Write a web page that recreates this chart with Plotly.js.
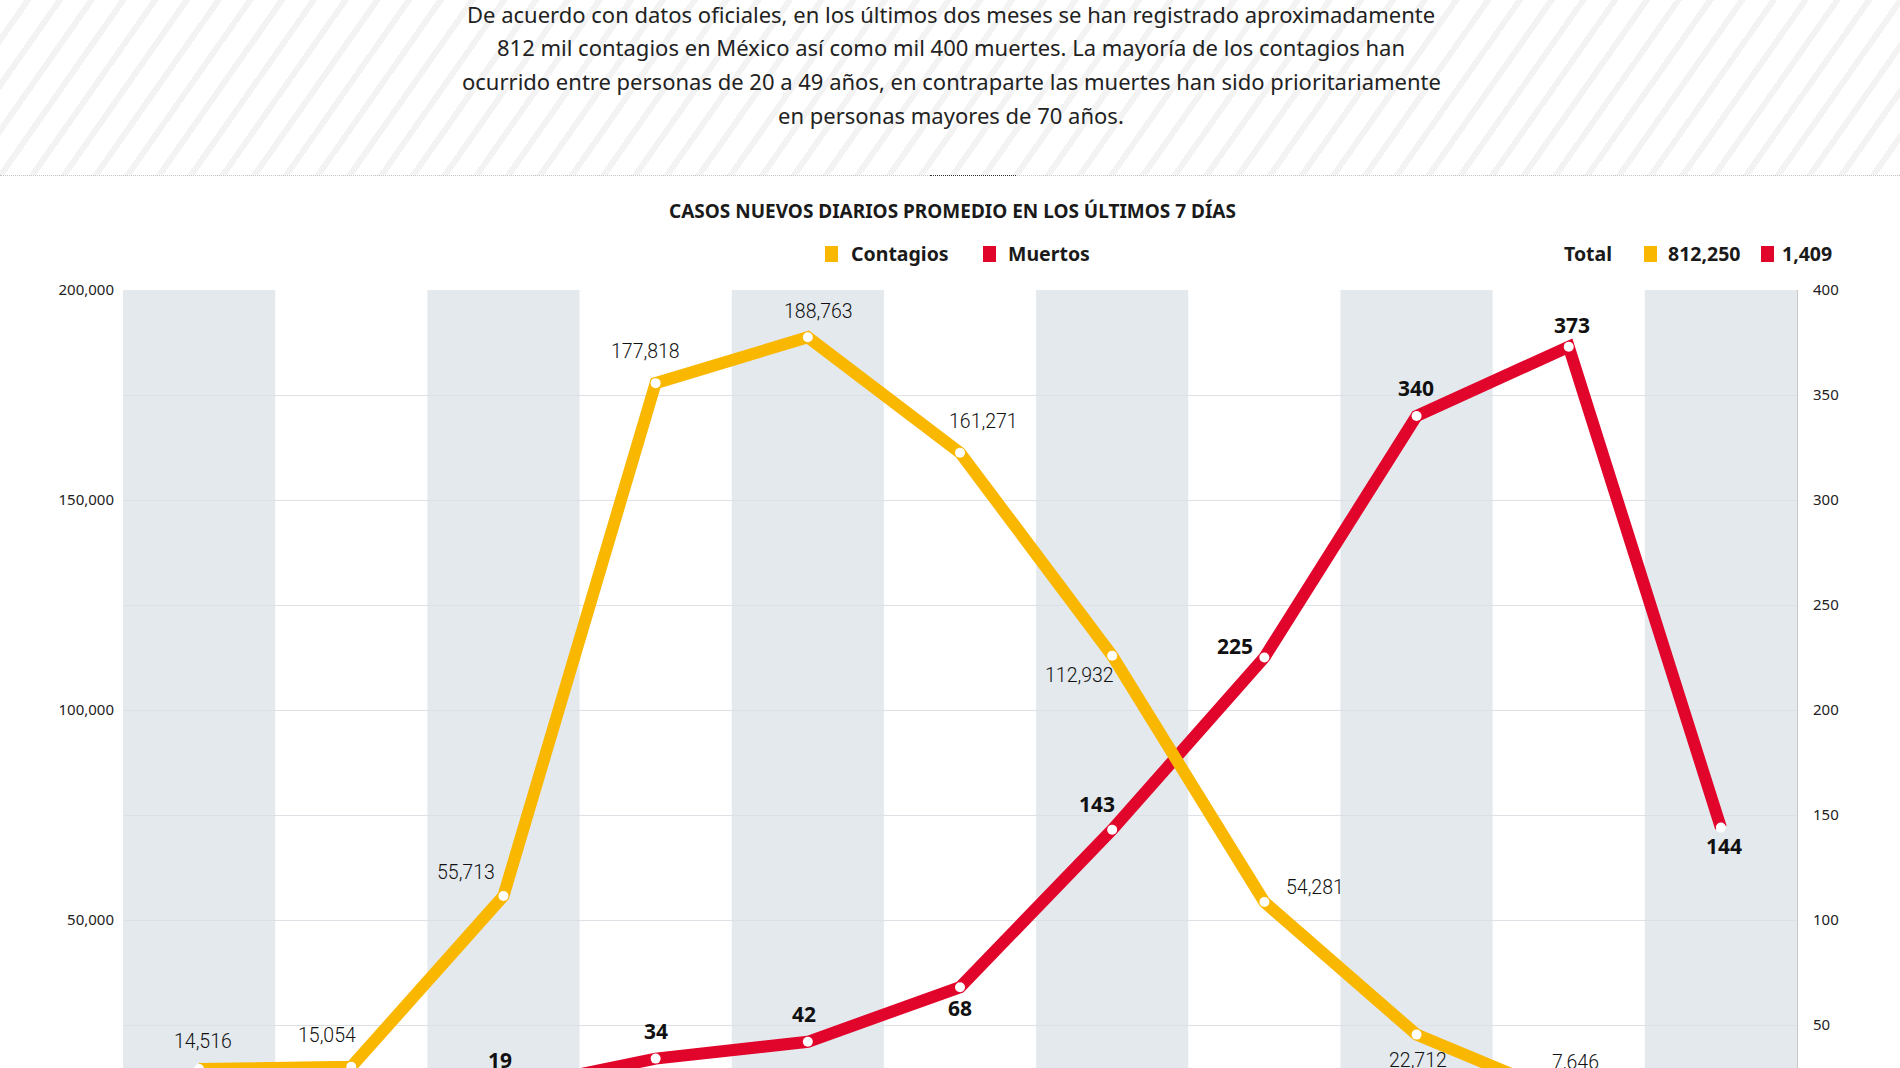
<!DOCTYPE html>
<html><head><meta charset="utf-8">
<script src="https://cdn.plot.ly/plotly-3.0.1.min.js"></script>
<style>
html,body{margin:0;padding:0;width:1900px;height:1068px;overflow:hidden;background:#fff;}
#hdr{position:absolute;left:0;top:0;width:1900px;height:175px;
 background:repeating-linear-gradient(125deg,#ffffff 0px,#ffffff 20px,#f3f3f3 20px,#f3f3f3 26px);
 border-bottom:1px dotted #c4c4c4;}
#dash{position:absolute;left:930px;top:175px;width:86px;height:0;border-top:1px dotted #333;}
#wrap{position:absolute;left:0;top:0;width:1900px;height:1068px;overflow:hidden;}
#chart{position:absolute;left:0;top:0;width:1900px;height:1140px;}
</style></head><body>
<div id="hdr"></div><div id="dash"></div>
<div id="wrap"><div id="chart"></div></div>
<script>
// ---- data ----
const categorias = ['0-4','5-9','10-19','20-29','30-39','40-49','50-59','60-69','70-79','80-89','90+'];
const contagios  = [14516, 15054, 55713, 177818, 188763, 161271, 112932, 54281, 22712, 7646, 1544];
const muertes    = [12, 9, 19, 34, 42, 68, 143, 225, 340, 373, 144];
const totalContagios = 812250;
const totalMuertes = 1409;
const ticksContagios = [50000, 100000, 150000, 200000];
const ticksMuertes = [50, 100, 150, 200, 250, 300, 350, 400];
const parrafo = [
  'De acuerdo con datos oficiales, en los últimos dos meses se han registrado aproximadamente',
  '812 mil contagios en México así como mil 400 muertes. La mayoría de los contagios han',
  'ocurrido entre personas de 20 a 49 años, en contraparte las muertes han sido prioritariamente',
  'en personas mayores de 70 años.'
];
const titulo = 'CASOS NUEVOS DIARIOS PROMEDIO EN LOS ÚLTIMOS 7 DÍAS';

// ---- styles / layout geometry ----
const AMARILLO = '#F9B700', ROJO = '#E1052B', BANDA = '#E4E9EE', GRID = '#DDE0E4';
const LIGHT = 'Roboto,"Noto Sans",sans-serif';
const SANS = '"Noto Sans",sans-serif';
const W = 1900, H = 1140, L = 123, R = 103, T = 290, B = 10;
const pw = W - L - R, ph = H - T - B;
const PX = x => (x - L) / pw, PY = y => (H - B - y) / ph;
// label offsets [dx, dy] in px (dy positive = down)
const offC = [[4,-28],[-24,-31],[-37,-24],[-10,-32],[11,-26],[23,-31],[-33,20],[51,-15],[1,26],[7,-35],[0,-30]];
const offM = [[0,-28],[0,-28],[-3,-30],[0,-28],[-4,-28],[0,21],[-15,-26],[-29,-12],[-1,-28],[3,-22],[3,18]];

const fmt = v => v.toLocaleString('en-US');

const traces = [
  { x: categorias, y: muertes, yaxis: 'y2', type: 'scatter', mode: 'lines+markers', name: 'Muertos',
    line: { color: ROJO, width: 12 }, marker: { color: '#fff', size: 10, line: { width: 0 } },
    cliponaxis: true, hoverinfo: 'skip', showlegend: false },
  { x: categorias, y: contagios, yaxis: 'y3', type: 'scatter', mode: 'lines+markers', name: 'Contagios',
    line: { color: AMARILLO, width: 12 }, marker: { color: '#fff', size: 10, line: { width: 0 } },
    cliponaxis: true, hoverinfo: 'skip', showlegend: false }
];

const shapes = categorias.map((c, i) => i % 2 === 0 ? ({
  type: 'rect', xref: 'x', yref: 'paper', x0: i - 0.5, x1: i + 0.5, y0: 0, y1: 1,
  fillcolor: BANDA, line: { width: 0 }, layer: 'below'
}) : null).filter(Boolean);

// legend squares
function square(x0, col) {
  return { type: 'rect', xref: 'paper', yref: 'paper', x0: PX(x0), x1: PX(x0 + 13), y0: PY(262), y1: PY(246),
           fillcolor: col, line: { width: 0 } };
}
shapes.push(square(825, AMARILLO), square(983, ROJO), square(1644, AMARILLO), square(1761, ROJO));

const annotations = [];
const lineY = [14, 47, 81, 115];
parrafo.forEach((t, i) => annotations.push({
  text: t, xref: 'paper', yref: 'paper', x: PX(951), y: PY(lineY[i]), xanchor: 'center', yanchor: 'middle',
  showarrow: false, font: { family: SANS, size: 22, color: '#222' }
}));
annotations.push({ text: titulo, xref: 'paper', yref: 'paper', x: PX(952), y: PY(211), xanchor: 'center', yanchor: 'middle',
  showarrow: false, font: { family: SANS, size: 19, color: '#1a1a1a', weight: 700 } });
const legTxt = [['Contagios', 849], ['Muertos', 1006], ['Total', 1562], [fmt(totalContagios), 1666], [fmt(totalMuertes), 1780]];
legTxt.forEach(([t, x]) => annotations.push({
  text: t, xref: 'paper', yref: 'paper', x: PX(x), y: PY(254), xanchor: 'left', yanchor: 'middle',
  showarrow: false, font: { family: SANS, size: 19.5, color: '#1a1a1a', weight: 700 } }));

contagios.forEach((v, i) => annotations.push({
  text: fmt(v), xref: 'x', yref: 'y', x: categorias[i], y: v, xshift: offC[i][0], yshift: -offC[i][1],
  xanchor: 'center', yanchor: 'middle', showarrow: false,
  font: { family: LIGHT, size: 19.5, color: '#111', weight: 300 } }));
muertes.forEach((v, i) => annotations.push({
  text: fmt(v), xref: 'x', yref: 'y2', x: categorias[i], y: v, xshift: offM[i][0], yshift: -offM[i][1],
  xanchor: 'center', yanchor: 'middle', showarrow: false,
  font: { family: SANS, size: 21, color: '#111', weight: 700 } }));

const layout = {
  width: W, height: H,
  margin: { l: L, r: R, t: T, b: B, pad: 0 },
  paper_bgcolor: 'rgba(0,0,0,0)', plot_bgcolor: '#fff',
  showlegend: false,
  xaxis: { type: 'category', range: [-0.5, categorias.length - 0.5], showgrid: false, zeroline: false,
           showticklabels: false, ticks: '', showline: false, fixedrange: true },
  yaxis: { range: [0, 200000], tickvals: ticksContagios, tickformat: ',d', showgrid: true,
           gridcolor: GRID, gridwidth: 1, zeroline: false, showline: false, ticks: '',
           ticklabelstandoff: 8,
           minor: { dtick: 25000, tick0: 0, showgrid: true, gridcolor: GRID, gridwidth: 1 },
           tickfont: { family: SANS, size: 15, color: '#222' } },
  yaxis2: { range: [0, 400], tickvals: ticksMuertes, overlaying: 'y', side: 'right', showgrid: false,
            zeroline: false, showline: true, linecolor: '#c8c8c8', linewidth: 1, ticks: '',
            ticklabelstandoff: 12, tickfont: { family: SANS, size: 15, color: '#222' } },
  yaxis3: { range: [0, 200000], overlaying: 'y', visible: false },
  shapes: shapes,
  annotations: annotations
};

Plotly.newPlot('chart', traces, layout, { staticPlot: true, displayModeBar: false });
</script>
</body></html>
